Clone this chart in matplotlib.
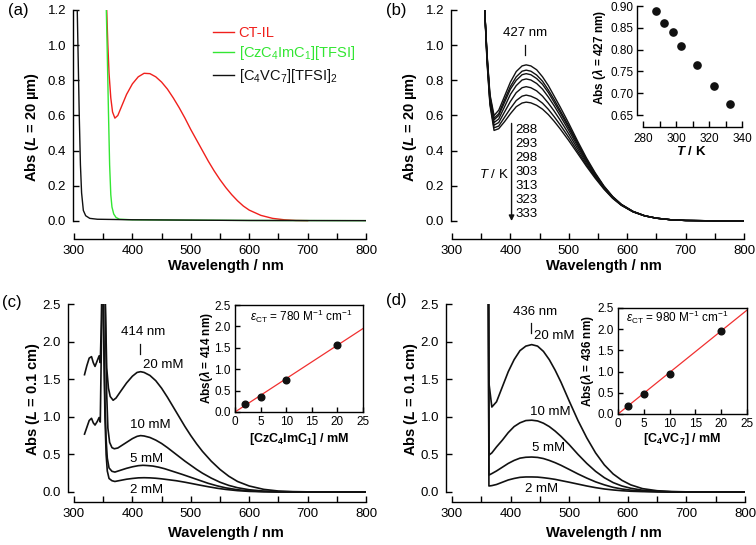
import matplotlib.pyplot as plt
from matplotlib.ticker import MultipleLocator, FormatStrFormatter

plt.rcParams['font.family'] = ['Liberation Sans', 'DejaVu Sans']
plt.rcParams['mathtext.fontset'] = 'custom'
plt.rcParams['mathtext.rm'] = 'Liberation Sans'
plt.rcParams['mathtext.it'] = 'Liberation Sans:italic'
plt.rcParams['mathtext.bf'] = 'Liberation Sans:bold'
plt.rcParams['mathtext.bfit'] = 'Liberation Sans:italic:bold'
plt.rcParams['axes.linewidth'] = 1.0

# ---- (a) neat liquids ----
wl_ctil = [354, 356, 358, 360, 363, 366, 370, 375, 380, 390, 400, 410, 420, 430, 440, 450, 460, 470,
           480, 490, 500, 510, 520, 530, 540, 550, 560, 570, 580, 590, 600, 620, 640, 660, 680, 700]
abs_ctil = [1.5, 1.2, 1.0, 0.84, 0.70, 0.62, 0.585, 0.60, 0.64, 0.72, 0.78, 0.82, 0.84, 0.838, 0.82, 0.79,
            0.75, 0.70, 0.645, 0.585, 0.52, 0.46, 0.40, 0.34, 0.285, 0.235, 0.19, 0.15, 0.115, 0.085,
            0.062, 0.032, 0.015, 0.007, 0.003, 0.002]
wl_cz = [353, 355, 357, 359, 361, 363, 365, 368, 372, 378, 400, 500, 600, 800]
abs_cz = [1.5, 1.25, 0.95, 0.62, 0.32, 0.15, 0.08, 0.04, 0.02, 0.01, 0.007, 0.005, 0.003, 0.002]
wl_vc = [304, 305, 307, 309, 311, 313, 316, 320, 327, 340, 400, 500, 600, 800]
abs_vc = [1.5, 1.3, 0.95, 0.6, 0.32, 0.16, 0.06, 0.03, 0.015, 0.01, 0.007, 0.005, 0.003, 0.002]

# ---- (b) temperature dependence ----
temps = [288, 293, 298, 303, 313, 323, 333]
wl_b = [356, 360, 365, 372, 380, 390, 400, 410, 420, 427, 435, 445, 455, 465, 475, 485, 500, 515,
        530, 545, 560, 575, 590, 610, 630, 650, 675, 700, 750, 800]
abs_b = {
    288: [1.20, 0.95, 0.72, 0.60, 0.63, 0.71, 0.79, 0.85, 0.882, 0.888, 0.882, 0.86, 0.82, 0.77, 0.71,
          0.65, 0.555, 0.455, 0.36, 0.275, 0.20, 0.14, 0.095, 0.055, 0.03, 0.016, 0.007, 0.003, 0.001, 0.0],
    293: [1.20, 0.94, 0.71, 0.585, 0.61, 0.69, 0.765, 0.82, 0.852, 0.858, 0.852, 0.83, 0.795, 0.745, 0.69,
          0.63, 0.54, 0.445, 0.352, 0.27, 0.197, 0.138, 0.094, 0.054, 0.03, 0.016, 0.007, 0.003, 0.001, 0.0],
    298: [1.20, 0.94, 0.70, 0.575, 0.60, 0.675, 0.75, 0.80, 0.832, 0.838, 0.832, 0.81, 0.777, 0.73, 0.675,
          0.618, 0.53, 0.437, 0.347, 0.266, 0.195, 0.137, 0.093, 0.054, 0.03, 0.016, 0.007, 0.003, 0.001, 0.0],
    303: [1.20, 0.93, 0.69, 0.56, 0.58, 0.65, 0.72, 0.77, 0.802, 0.808, 0.802, 0.782, 0.75, 0.705, 0.655,
          0.60, 0.515, 0.426, 0.34, 0.262, 0.192, 0.135, 0.092, 0.053, 0.029, 0.016, 0.007, 0.003, 0.001, 0.0],
    313: [1.20, 0.92, 0.68, 0.545, 0.56, 0.62, 0.68, 0.73, 0.758, 0.764, 0.758, 0.74, 0.71, 0.67, 0.625,
          0.575, 0.495, 0.412, 0.33, 0.256, 0.188, 0.133, 0.091, 0.053, 0.029, 0.016, 0.007, 0.003, 0.001, 0.0],
    323: [1.20, 0.91, 0.67, 0.53, 0.54, 0.59, 0.64, 0.685, 0.71, 0.716, 0.71, 0.695, 0.67, 0.635, 0.593,
          0.548, 0.475, 0.397, 0.32, 0.25, 0.185, 0.131, 0.09, 0.052, 0.029, 0.016, 0.007, 0.003, 0.001, 0.0],
    333: [1.20, 0.90, 0.66, 0.515, 0.525, 0.565, 0.61, 0.65, 0.671, 0.676, 0.672, 0.658, 0.636, 0.605, 0.567,
          0.525, 0.457, 0.385, 0.312, 0.244, 0.182, 0.129, 0.089, 0.052, 0.029, 0.016, 0.007, 0.003, 0.001, 0.0],
}
peak_b = [0.888, 0.860, 0.840, 0.809, 0.765, 0.716, 0.675]

# ---- (c) CzC4ImC1 concentration series ----
wl_c20 = [318, 322, 326, 330, 333, 336, 340, 343, 345, 347, 348.5, 352, 354, 356, 359, 362, 367, 372, 380,
          390, 400, 408, 414, 420, 430, 440, 450, 460, 470, 480, 490, 500, 510, 520, 535, 550, 565, 580,
          600, 625, 650, 675, 700, 750, 800]
abs_c20 = [1.56, 1.68, 1.78, 1.80, 1.72, 1.67, 1.75, 1.81, 1.72, 2.3, 3.2, 3.2, 2.4, 1.65, 1.38, 1.27, 1.22,
           1.25, 1.34, 1.45, 1.54, 1.59, 1.60, 1.59, 1.55, 1.48, 1.38, 1.26, 1.13, 1.00, 0.87, 0.75, 0.64,
           0.54, 0.41, 0.30, 0.21, 0.14, 0.08, 0.035, 0.013, 0.005, 0.002, 0.0, 0.0]
wl_c10 = [318, 322, 326, 330, 333, 336, 340, 343, 345, 347, 348.5, 352, 354, 356, 358, 361, 365, 369, 375,
          380, 390, 400, 408, 414, 420, 430, 440, 450, 460, 470, 480, 490, 500, 510, 520, 535, 550, 565,
          580, 600, 625, 650, 675, 700, 750, 800]
abs_c10 = [0.77, 0.86, 0.95, 0.98, 0.92, 0.89, 0.94, 0.99, 0.93, 2.0, 3.2, 3.2, 2.2, 1.3, 0.85, 0.66, 0.59,
           0.575, 0.585, 0.61, 0.66, 0.71, 0.74, 0.75, 0.745, 0.725, 0.69, 0.645, 0.59, 0.53, 0.47, 0.41,
           0.355, 0.30, 0.25, 0.185, 0.13, 0.088, 0.057, 0.03, 0.012, 0.004, 0.002, 0.001, 0.0, 0.0]
wl_c5 = [346, 349, 351, 353, 355, 357, 360, 365, 370, 380, 390, 400, 410, 418, 425, 435, 445, 455, 465,
         475, 485, 500, 515, 530, 545, 560, 580, 600, 625, 650, 675, 700, 750, 800]
abs_c5 = [3.2, 3.0, 2.1, 1.2, 0.7, 0.45, 0.32, 0.275, 0.265, 0.29, 0.315, 0.335, 0.35, 0.355, 0.352, 0.345,
          0.33, 0.31, 0.285, 0.26, 0.235, 0.195, 0.155, 0.115, 0.082, 0.055, 0.03, 0.015, 0.006, 0.002,
          0.001, 0.0, 0.0, 0.0]
wl_c2 = [346, 349, 351, 353, 355, 357, 360, 365, 370, 380, 390, 400, 410, 420, 430, 440, 450, 460, 475,
         490, 500, 515, 530, 545, 560, 580, 600, 625, 650, 700, 800]
abs_c2 = [3.2, 3.0, 2.0, 1.0, 0.5, 0.28, 0.18, 0.15, 0.14, 0.155, 0.17, 0.18, 0.188, 0.19, 0.188, 0.183,
          0.175, 0.165, 0.15, 0.13, 0.115, 0.092, 0.07, 0.05, 0.034, 0.018, 0.008, 0.003, 0.001, 0.0, 0.0]
conc_c = [2, 5, 10, 20]
peak_c = [0.18, 0.34, 0.74, 1.57]
eps_c = 780

# ---- (d) C4VC7 concentration series ----
wl_d = [360, 362, 363, 368, 376, 386, 396, 406, 416, 426, 436, 446, 456, 466, 476, 486, 500, 515, 530,
        545, 560, 575, 590, 605, 625, 650, 675, 700, 750, 800]
abs_d20 = [3.2, 3.2, 1.45, 1.13, 1.20, 1.40, 1.60, 1.76, 1.88, 1.94, 1.96, 1.94, 1.87, 1.76, 1.62, 1.46,
           1.21, 0.95, 0.72, 0.52, 0.36, 0.24, 0.155, 0.095, 0.045, 0.017, 0.006, 0.002, 0.0, 0.0]
abs_d10 = [3.2, 3.2, 0.49, 0.52, 0.60, 0.69, 0.79, 0.87, 0.92, 0.95, 0.955, 0.945, 0.915, 0.87, 0.81,
           0.74, 0.63, 0.50, 0.38, 0.275, 0.19, 0.125, 0.08, 0.05, 0.024, 0.009, 0.003, 0.001, 0.0, 0.0]
abs_d5 = [3.2, 3.2, 0.225, 0.245, 0.28, 0.33, 0.38, 0.42, 0.45, 0.462, 0.465, 0.46, 0.445, 0.42, 0.39,
          0.355, 0.30, 0.24, 0.185, 0.135, 0.095, 0.062, 0.04, 0.025, 0.012, 0.004, 0.002, 0.001, 0.0, 0.0]
abs_d2 = [3.2, 3.2, 0.08, 0.085, 0.10, 0.13, 0.16, 0.18, 0.195, 0.20, 0.20, 0.198, 0.19, 0.18, 0.168,
          0.152, 0.13, 0.105, 0.08, 0.058, 0.04, 0.027, 0.017, 0.01, 0.005, 0.002, 0.0, 0.0, 0.0, 0.0]
conc_d = [2, 5, 10, 20]
peak_d = [0.20, 0.46, 0.95, 1.96]
eps_d = 980

W, H = 756, 545
fig = plt.figure(figsize=(W / 100, H / 100), dpi=100)
PT = 0.72  # points per pixel at 100 dpi


def add_ax(x0, x1, y_top, y_bot, xlim, ylim, pad=0.0):
    # x0/x1, y_top/y_bot: pixel positions of the axis limits
    ppu = (y_bot - y_top) / (ylim[1] - ylim[0])
    pad_u = pad * (ylim[1] - ylim[0])
    yb = y_bot + pad_u * ppu
    ax = fig.add_axes([x0 / W, 1 - yb / H, (x1 - x0) / W, (yb - y_top) / H])
    ax.set_xlim(*xlim)
    ax.set_ylim(ylim[0] - pad_u, ylim[1])
    return ax, yb


def open_axes(ax, ylim, left_off, bottom_off, labelsize=9.5):
    for s in ('top', 'right'):
        ax.spines[s].set_visible(False)
    ax.spines['left'].set_position(('outward', left_off * PT))
    ax.spines['bottom'].set_position(('outward', bottom_off * PT))
    ax.spines['left'].set_bounds(*ylim)
    ax.tick_params(which='both', direction='in', length=4.5, width=1, labelsize=labelsize)
    ax.tick_params(axis='y', pad=5)
    ax.tick_params(axis='x', pad=4)


def main_panel(x0, x1, y_top, y_bot, ymax, ystep, spine_x, spine_y, ylabel, lab_y):
    ax, yb = add_ax(x0, x1, y_top, y_bot, (300, 800), (0, ymax), pad=0.015)
    open_axes(ax, (0, ymax), x0 - spine_x, spine_y - yb)
    ax.xaxis.set_major_locator(MultipleLocator(100))
    ax.xaxis.set_minor_locator(MultipleLocator(50))
    ax.yaxis.set_major_locator(MultipleLocator(ystep))
    ax.yaxis.set_major_formatter(FormatStrFormatter('%.1f'))
    ax.set_xlabel('Wavelength / nm', fontsize=10.5, fontweight='bold', va='top')
    ax.set_ylabel(ylabel, fontsize=10.5, fontweight='bold', va='center')
    hpx = yb - y_top
    ax.xaxis.set_label_coords((x0 + 152 - x0) / (x1 - x0), -(lab_y - yb) / hpx)
    ax.yaxis.set_label_coords((32 - 74) / (x1 - x0), (yb - (y_top + (127 - 10) * (y_bot - y_top) / 211)) / hpx)
    return ax


LW = 1.0

# (a)
ax_a = main_panel(74, 366, 10, 221, 1.2, 0.2, 73, 239, r'Abs ($\mathbfit{L}$ = 20 µm)', 259)
ax_a.plot(wl_ctil, abs_ctil, color='#f0201c', lw=LW, label='CT-IL')
ax_a.plot(wl_cz, abs_cz, color='#33e633', lw=LW, label=r'[CzC$_4$ImC$_1$][TFSI]')
ax_a.plot(wl_vc, abs_vc, color='#111111', lw=LW, label=r'[C$_4$VC$_7$][TFSI]$_2$')
ax_a.legend(loc='upper left', bbox_to_anchor=((213 - 74) / 292, 1 - 16 / 215), frameon=False,
            fontsize=10.5, handlelength=1.45, handletextpad=0.3, labelspacing=0.3, borderpad=0,
            borderaxespad=0, labelcolor='linecolor')

# (b)
ax_b = main_panel(452, 744, 10, 221, 1.2, 0.2, 451, 239, r'Abs ($\mathbfit{L}$ = 20 µm)', 259)
for t in temps:
    ax_b.plot(wl_b, abs_b[t], color='#111111', lw=LW)
ax_b.plot([425, 425], [0.944, 1.0], color='#111111', lw=0.9)
ax_b.text(425, 1.067, '427 nm', ha='center', va='center', fontsize=9.5)
ax_b.annotate('', xy=(402, 0.0), xytext=(402, 0.555),
              arrowprops=dict(arrowstyle='-|>', color='#111111', lw=1, mutation_scale=8, shrinkA=0, shrinkB=0))
for t, yv in zip(temps, [0.518, 0.438, 0.356, 0.277, 0.199, 0.119, 0.040]):
    ax_b.text(409, yv, str(t), ha='left', va='center', fontsize=9.5)
ax_b.text(398, 0.262, r'$\mathit{T}$ / K', ha='right', va='center', fontsize=9.5)

# (b) inset
axi_b, yb_i = add_ax(643, 742, 6, 115, (280, 340), (0.65, 0.90))
open_axes(axi_b, (0.65, 0.90), 6, 12, labelsize=8.5)
axi_b.spines['bottom'].set_bounds(280, 340)
axi_b.xaxis.set_major_locator(MultipleLocator(20))
axi_b.xaxis.set_minor_locator(MultipleLocator(10))
axi_b.yaxis.set_major_locator(MultipleLocator(0.05))
axi_b.yaxis.set_major_formatter(FormatStrFormatter('%.2f'))
axi_b.tick_params(which='both', length=4)
axi_b.tick_params(axis='y', pad=2.5)
axi_b.set_facecolor('none')
axi_b.plot(temps, peak_b, 'o', color='#111111', ms=5.2)
axi_b.set_xlabel(r'$\mathbfit{T}$ / K', fontsize=9.5, fontweight='bold', va='top')
axi_b.set_ylabel(r'Abs ($\mathbfit{\lambda}$ = 427 nm)', fontsize=8.5, fontweight='bold', va='center')
axi_b.xaxis.set_label_coords(0.49, -(145 - 115) / 109)
axi_b.yaxis.set_label_coords((599 - 643) / 99, (115 - 57) / 109)

# (c)
ax_c = main_panel(74, 366, 304, 492, 2.5, 0.5, 68, 502, r'Abs ($\mathbfit{L}$ = 0.1 cm)', 526)
ax_c.yaxis.set_label_coords((33 - 74) / 292, 0.5)
for wl, ab in ((wl_c20, abs_c20), (wl_c10, abs_c10), (wl_c5, abs_c5), (wl_c2, abs_c2)):
    ax_c.plot(wl, ab, color='#111111', lw=1.2)
ax_c.plot([413, 413], [1.84, 1.97], color='#111111', lw=0.9)
ax_c.text(418, 2.13, '414 nm', ha='center', va='center', fontsize=9.5)
for txt, xv, yv in (('20 mM', 452, 1.69), ('10 mM', 430, 0.89), ('5 mM', 424, 0.44), ('2 mM', 424, 0.02)):
    ax_c.text(xv, yv, txt, ha='center', va='center', fontsize=9.5)


def inset_fit(x0, x1, y_top, y_bot, conc, peak, eps, xlabel, ylabel, ylab_x, xlab_top, eps_x, eps_y):
    ax, _ = add_ax(x0, x1, y_top, y_bot, (0, 25), (0, 2.5))
    ax.tick_params(which='both', direction='in', length=3.5, width=1, labelsize=8.5, pad=3)
    ax.xaxis.set_major_locator(MultipleLocator(5))
    ax.yaxis.set_major_locator(MultipleLocator(0.5))
    ax.yaxis.set_major_formatter(FormatStrFormatter('%.1f'))
    fit_x = [0, 25]
    fit_y = [eps * 1e-3 * 0.1 * c for c in fit_x]
    ax.plot(fit_x, fit_y, color='#f03030', lw=0.9)
    ax.plot(conc, peak, 'o', color='#111111', ms=4.8)
    ax.text(eps_x, eps_y, r'$\varepsilon_{\rm CT}$ = %d M$^{-1}$ cm$^{-1}$' % eps, ha='left', va='center',
            fontsize=8.5)
    ax.set_xlabel(xlabel, fontsize=9, fontweight='bold', va='top')
    ax.set_ylabel(ylabel, fontsize=8.5, fontweight='bold', va='center')
    hpx = y_bot - y_top
    ax.xaxis.set_label_coords(0.5, -(xlab_top - y_bot) / hpx)
    ax.yaxis.set_label_coords((ylab_x - x0) / (x1 - x0), 0.5)
    return ax


inset_fit(235, 363, 305, 412, conc_c, peak_c, eps_c, r'[CzC$_\mathbf{4}$ImC$_\mathbf{1}$] / mM',
          r'Abs($\mathbfit{\lambda}$ = 414 nm)', 206, 431, 2.9, 2.24)

# (d)
ax_d = main_panel(452, 745, 304, 492, 2.5, 0.5, 446, 502, r'Abs ($\mathbfit{L}$ = 0.1 cm)', 526)
ax_d.yaxis.set_label_coords((411 - 452) / 293, 0.5)
for ab in (abs_d20, abs_d10, abs_d5, abs_d2):
    ax_d.plot(wl_d, ab, color='#111111', lw=1.2)
ax_d.plot([434, 434], [2.12, 2.25], color='#111111', lw=0.9)
ax_d.text(442, 2.40, '436 nm', ha='center', va='center', fontsize=9.5)
for txt, xv, yv in (('20 mM', 474, 2.08), ('10 mM', 467, 1.07), ('5 mM', 464, 0.58), ('2 mM', 452, 0.04)):
    ax_d.text(xv, yv, txt, ha='center', va='center', fontsize=9.5)

inset_fit(618, 747, 308, 414, conc_d, peak_d, eps_d, r'[C$_\mathbf{4}$VC$_\mathbf{7}$] / mM',
          r'Abs($\mathbfit{\lambda}$ = 436 nm)', 587, 431, 1.6, 2.29)

for lab, xp, yp in (('(a)', 8, 10), ('(b)', 386, 10), ('(c)', 2, 302), ('(d)', 386, 301)):
    fig.text(xp / W, 1 - yp / H, lab, fontsize=12, ha='left', va='center')

fig.savefig('out.png', dpi=100)
